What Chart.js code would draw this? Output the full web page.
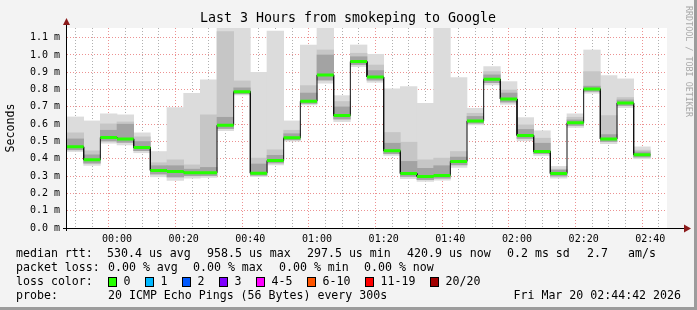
<!DOCTYPE html>
<html>
<head>
<meta charset="utf-8">
<script src="https://cdn.jsdelivr.net/npm/chart.js@4"></script>
<style>
  body { margin: 0; background: #f3f3f3; }
  canvas { display: block; }
</style>
</head>
<body>
<canvas id="chart" width="697" height="310"></canvas>
<script>
// minutes since 23:45, one step every 5 min (300s)
const stepMinutes = 5;
const timeLabels = ["00:00", "00:20", "00:40", "01:00", "01:20", "01:40", "02:00", "02:20", "02:40"];
const yLabels = ["0.0", "0.1", "0.2", "0.3", "0.4", "0.5", "0.6", "0.7", "0.8", "0.9", "1.0", "1.1"];

// values in ms
const median = [0.469, 0.394, 0.523, 0.515, 0.465, 0.333, 0.327, 0.319, 0.319, 0.594,
                0.788, 0.317, 0.390, 0.521, 0.733, 0.885, 0.650, 0.962, 0.873, 0.446,
                0.315, 0.298, 0.304, 0.385, 0.619, 0.860, 0.746, 0.535, 0.442, 0.315,
                0.608, 0.804, 0.515, 0.723, 0.423];
const smokeMin = [0.442, 0.362, 0.490, 0.480, 0.435, 0.296, 0.275, 0.288, 0.292, 0.562,
                  0.769, 0.296, 0.365, 0.502, 0.711, 0.837, 0.615, 0.933, 0.842, 0.419,
                  0.285, 0.269, 0.277, 0.350, 0.596, 0.827, 0.715, 0.504, 0.419, 0.288,
                  0.581, 0.779, 0.488, 0.696, 0.400];
const smokeMax = [0.642, 0.619, 0.660, 0.654, 0.550, 0.442, 0.696, 0.779, 0.856, 1.160,
                  1.160, 0.900, 1.138, 0.619, 1.058, 1.160, 0.765, 1.058, 1.004, 0.804,
                  0.817, 0.721, 1.160, 0.869, 0.692, 0.933, 0.846, 0.638, 0.562, 0.356,
                  0.660, 1.029, 0.881, 0.862, 0.469];
const bandHi = [0.550, 0.446, 0.602, 0.613, 0.527, 0.377, 0.394, 0.365, 0.654, 1.135,
                0.850, 0.404, 0.452, 0.565, 0.823, 1.029, 0.731, 1.010, 0.942, 0.552,
                0.496, 0.394, 0.404, 0.442, 0.663, 0.904, 0.798, 0.596, 0.519, 0.340,
                0.640, 0.904, 0.650, 0.754, 0.450];
const coreLo = [0.452, 0.375, 0.503, 0.495, 0.447, 0.312, 0.295, 0.302, 0.303, 0.575,
                0.776, 0.305, 0.376, 0.510, 0.720, 0.855, 0.630, 0.945, 0.855, 0.430,
                0.298, 0.280, 0.288, 0.365, 0.606, 0.840, 0.728, 0.518, 0.430, 0.300,
                0.593, 0.790, 0.500, 0.708, 0.410];
const coreHi = [0.515, 0.423, 0.565, 0.600, 0.500, 0.360, 0.360, 0.340, 0.350, 0.640,
                0.810, 0.370, 0.420, 0.545, 0.780, 1.000, 0.700, 0.990, 0.910, 0.490,
                0.385, 0.345, 0.360, 0.410, 0.645, 0.885, 0.780, 0.570, 0.490, 0.335,
                0.625, 0.820, 0.540, 0.740, 0.440];

const lossColors = ["#26ff00", "#00b8ff", "#0059ff", "#7e00ff", "#ff00ff", "#ff5500", "#ff0000", "#a10000"];
const lossLabels = ["0", "1", "2", "3", "4-5", "6-10", "11-19", "20/20"];

const MONO = "'DejaVu Sans Mono', monospace";

function bars(lo, hi) {
    return lo.map((v, i) => ({ x: i * stepMinutes + stepMinutes / 2, y: [v, hi[i]] }));
}

// median line pieces: green horizontal segments, black connected steps
const greenPts = [];
const blackPts = [];
median.forEach((m, i) => {
    greenPts.push({ x: i * stepMinutes, y: m }, { x: (i + 1) * stepMinutes, y: m }, { x: (i + 1) * stepMinutes, y: null });
    blackPts.push({ x: i * stepMinutes, y: m }, { x: (i + 1) * stepMinutes, y: m });
});

const smokeBar = { type: 'bar', grouped: false, borderWidth: 0, barPercentage: 1, categoryPercentage: 1 };

const decor = {
    id: 'decor',
    beforeDraw(chart) {
        const c = chart.ctx, a = chart.chartArea;
        c.save();
        c.fillStyle = '#f3f3f3';
        c.fillRect(0, 0, 697, 310);
        c.fillStyle = '#9c9c9c';
        c.fillRect(694, 0, 3, 310);
        c.fillRect(0, 307, 697, 3);
        c.fillStyle = '#ffffff';
        c.fillRect(a.left, a.top, a.right - a.left, a.bottom - a.top);
        c.restore();
    },
    afterDraw(chart) {
        const c = chart.ctx, a = chart.chartArea;
        c.save();
        // axes
        c.strokeStyle = '#000';
        c.lineWidth = 1;
        c.beginPath();
        c.moveTo(63, a.bottom + 0.5); c.lineTo(686, a.bottom + 0.5);
        c.moveTo(a.left - 0.5, a.bottom + 3); c.lineTo(a.left - 0.5, 24);
        c.stroke();
        c.fillStyle = '#8b1a1a';
        c.beginPath();
        c.moveTo(684, a.bottom - 3.5); c.lineTo(691, a.bottom + 0.5); c.lineTo(684, a.bottom + 4.5);
        c.fill();
        c.beginPath();
        c.moveTo(a.left - 4, 25); c.lineTo(a.left - 0.5, 18); c.lineTo(a.left + 3, 25);
        c.fill();

        c.fillStyle = '#000';
        c.textBaseline = 'middle';
        c.font = '13.3px ' + MONO;
        c.textAlign = 'center';
        c.fillText('Last 3 Hours from smokeping to Google', 348, 19);

        c.font = '11.6px ' + MONO;
        c.save();
        c.translate(11, 128);
        c.rotate(-Math.PI / 2);
        c.fillText('Seconds', 0, 0);
        c.restore();

        c.save();
        c.fillStyle = '#a8a8a8';
        c.font = '8.4px ' + MONO;
        c.translate(688, 6);
        c.rotate(Math.PI / 2);
        c.textAlign = 'left';
        c.fillText('RRDTOOL / TOBI OETIKER', 0, 0);
        c.restore();

        c.textAlign = 'left';
        const rows = [
            [254, [[16, 'median rtt:'], [107, '530.4 us avg'], [207, '958.5 us max'], [307, '297.5 us min'],
                   [407, '420.9 us now'], [507, '0.2 ms sd'], [587, '2.7'], [628, 'am/s']]],
            [268, [[16, 'packet loss:'], [108, '0.00 % avg'], [193, '0.00 % max'], [279, '0.00 % min'], [364, '0.00 % now']]],
            [282, [[16, 'loss color:']]],
            [296, [[16, 'probe:'], [108, '20 ICMP Echo Pings (56 Bytes) every 300s']]]
        ];
        rows.forEach(([y, items]) => items.forEach(([x, t]) => c.fillText(t, x, y)));
        c.textAlign = 'right';
        c.fillText('Fri Mar 20 02:44:42 2026', 681, 296);
        c.textAlign = 'left';

        const boxX = [108, 145, 182, 219, 256, 307, 365, 430];
        lossLabels.forEach((l, i) => {
            c.fillStyle = lossColors[i];
            c.fillRect(boxX[i], 277, 9, 10);
            c.strokeStyle = '#000';
            c.strokeRect(boxX[i] + 0.5, 277.5, 8, 9);
            c.fillStyle = '#000';
            c.fillText(l, boxX[i] + 15.5, 282);
        });
        c.restore();
    }
};

// 00:00 is 15 minutes after the start, majors every 20 minutes
const isMajorVal = (v) => v >= 15 && (v - 15) % 20 === 0;
const isMajor = (c) => c.tick && isMajorVal(c.tick.value);

const ctx = document.getElementById('chart');
const chart = new Chart(ctx, {
    type: 'bar',
    data: {
        datasets: [
            { type: 'line', data: greenPts, borderColor: '#26ff00', borderWidth: 3, pointRadius: 0, spanGaps: false, order: 0, borderCapStyle: 'butt' },
            { type: 'line', data: blackPts, borderColor: '#111', borderWidth: 1, pointRadius: 0, order: 1 },
            { ...smokeBar, data: bars(coreLo, coreHi), backgroundColor: '#a3a3a3', order: 2 },
            { ...smokeBar, data: bars(coreLo, bandHi), backgroundColor: '#c6c6c6', order: 3 },
            { ...smokeBar, data: bars(smokeMin, smokeMax), backgroundColor: '#dcdcdc', order: 4 }
        ]
    },
    options: {
        responsive: false,
        animation: false,
        devicePixelRatio: 1,
        layout: { padding: { left: 0, right: 30, top: 28, bottom: 0 } },
        plugins: { legend: { display: false }, tooltip: { enabled: false } },
        scales: {
            x: {
                type: 'linear',
                min: 0,
                max: 180,
                offset: false,
                afterFit: (s) => { s.height = 82; },
                border: { display: false, dash: [1, 2] },
                grid: {
                    drawTicks: false,
                    color: (c) => (isMajor(c) ? 'rgba(230,110,110,0.75)' : 'rgba(150,150,150,0.75)')
                },
                ticks: {
                    stepSize: 5,
                    autoSkip: false,
                    maxRotation: 0,
                    padding: 5,
                    color: '#000',
                    font: { family: MONO, size: 10 },
                    callback: (v) => (isMajorVal(v) ? timeLabels[(v - 15) / 20] : '')
                }
            },
            y: {
                min: 0,
                max: 1.156,
                afterFit: (s) => { s.width = 67; },
                border: { display: false, dash: [1, 2] },
                grid: { drawTicks: false, color: 'rgba(230,110,110,0.75)' },
                ticks: {
                    stepSize: 0.1,
                    includeBounds: false,
                    padding: 7,
                    color: '#000',
                    font: { family: MONO, size: 10 },
                    callback: (v, i) => (yLabels[i] !== undefined ? yLabels[i] + ' m' : '')
                }
            }
        }
    },
    plugins: [decor]
});
</script>
</body>
</html>
